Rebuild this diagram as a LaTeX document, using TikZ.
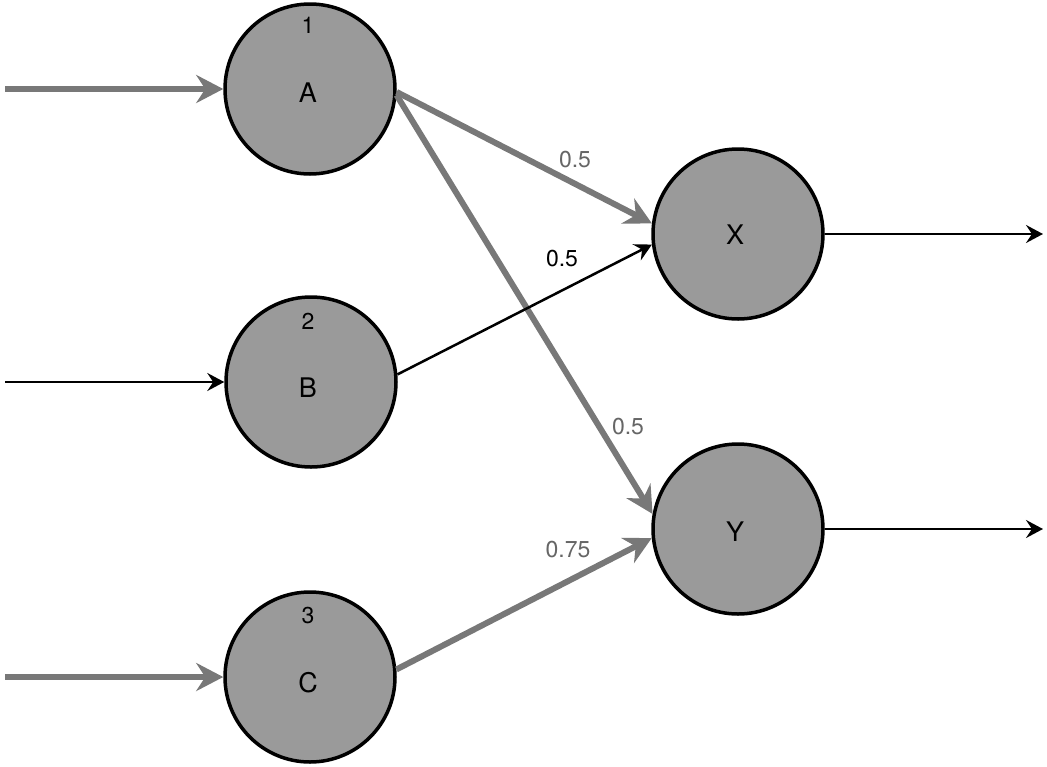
\documentclass[tikz,border=0pt]{standalone}
\usepackage{fontspec}
\setmainfont{TeX Gyre Heros}
\usetikzlibrary{arrows.meta}
\definecolor{nodefill}{HTML}{9A9A9A}
\definecolor{edgegray}{HTML}{787878}
\definecolor{labelgray}{HTML}{666666}
\tikzset{
  neuron/.style={circle, draw=black, line width=3.5pt, fill=nodefill, minimum size=170pt, inner sep=0pt},
  nlabel/.style={font=\fontsize{27}{30}\selectfont},
  numlabel/.style={font=\fontsize{23}{26}\selectfont},
  wlabel/.style={font=\fontsize{23}{26}\selectfont, text=labelgray},
  thickedge/.style={draw=edgegray, line width=6pt, -{Stealth[length=27pt,width=28pt,inset=9pt]}},
  thinedge/.style={draw=black, line width=2.5pt, -{Stealth[length=17pt,width=18pt,inset=6pt]}}
}
\begin{document}
\begin{tikzpicture}[x=1pt,y=-1pt]
\useasboundingbox (0,0) rectangle (1047,766);
\node[neuron] (A) at (310,89) {};
\node[neuron] (B) at (311,382) {};
\node[neuron] (C) at (310,677) {};
\node[neuron] (X) at (738,234) {};
\node[neuron] (Y) at (738,529) {};
\node[nlabel] (Al) at (308,93) {A};
\node[nlabel] (Bl) at (308,388) {B};
\node[nlabel] (Cl) at (308,683) {C};
\node[nlabel] (Xl) at (735,235) {X};
\node[nlabel] (Yl) at (735,532) {Y};
\node[numlabel] (n1) at (308,25) {1};
\node[numlabel] (n2) at (308,321) {2};
\node[numlabel] (n3) at (308,616) {3};
\coordinate (inA) at (5,89);
\coordinate (inB) at (5,382);
\coordinate (inC) at (5,677);
\coordinate (outX) at (1043,234);
\coordinate (outY) at (1043,529);
\draw[thickedge] (inA) -- (A.west);
\draw[thinedge] (inB) -- (B.west);
\draw[thickedge] (inC) -- (C.west);
\draw[thinedge] (X.east) -- (outX);
\draw[thinedge] (Y.east) -- (outY);
\draw[thickedge] (A.-2) -- (X.173);
\draw[thickedge] (A.-4) -- (Y.170);
\draw[thinedge] (B.5) -- (X.187);
\draw[thickedge] (C.5) -- (Y.186);
\node[wlabel] (w1) at (575,160) {0.5};
\node[wlabel, text=black] (w2) at (562,259) {0.5};
\node[wlabel] (w3) at (628,427) {0.5};
\node[wlabel] (w4) at (568,550) {0.75};
\end{tikzpicture}
\end{document}
